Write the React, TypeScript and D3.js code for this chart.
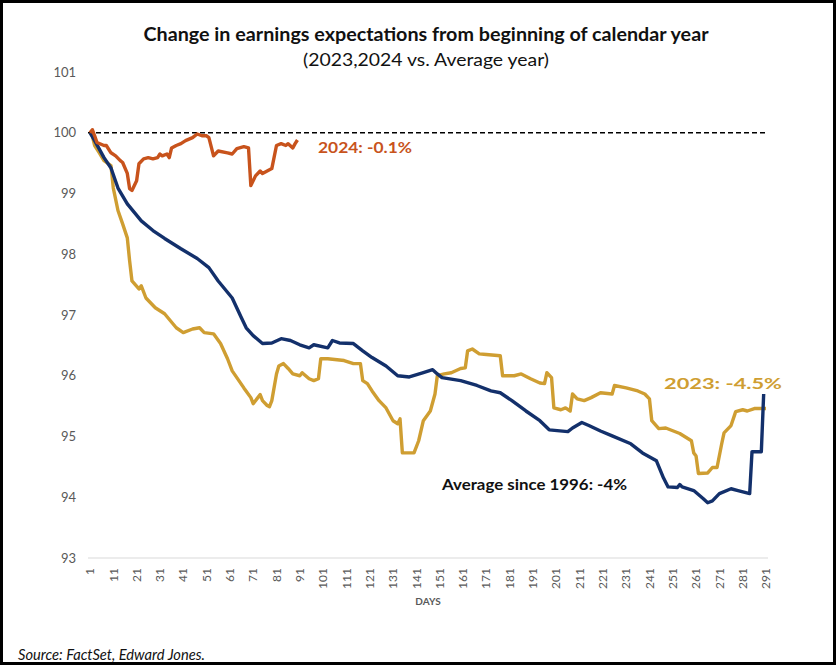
import React from "react";
import * as d3 from "d3";

const avgSeries: [number, number][] = [[1,100.0],[3,99.87],[7,99.59],[10,99.42],[13,99.09],[17,98.83],[23,98.55],[28,98.39],[33,98.26],[40,98.09],[47,97.93],[52,97.78],[56,97.56],[62,97.28],[66,96.95],[68,96.79],[71,96.66],[75,96.53],[79,96.54],[83,96.61],[87,96.58],[91,96.51],[95,96.46],[97,96.51],[103,96.46],[105,96.58],[108,96.54],[114,96.53],[118,96.41],[122,96.30],[128,96.16],[133,96.00],[138,95.98],[144,96.05],[148,96.10],[150,96.03],[152,95.97],[160,95.92],[167,95.84],[173,95.75],[177,95.72],[182,95.59],[188,95.42],[194,95.26],[198,95.11],[206,95.08],[208,95.14],[212,95.23],[215,95.18],[220,95.09],[225,95.01],[233,94.88],[238,94.73],[244,94.60],[247,94.32],[249,94.17],[253,94.16],[254,94.21],[255,94.17],[260,94.11],[264,93.98],[266,93.91],[268,93.94],[271,94.06],[276,94.14],[279,94.11],[284,94.06],[285,94.75],[289,94.75],[290,95.70]];

const series2023: [number, number][] = [[1,100.0],[2,99.95],[3,99.79],[5,99.67],[7,99.54],[10,99.46],[11,99.09],[13,98.72],[15,98.50],[17,98.27],[18,97.89],[19,97.56],[22,97.43],[23,97.48],[25,97.28],[29,97.12],[33,97.02],[38,96.79],[41,96.71],[45,96.77],[48,96.79],[50,96.71],[54,96.69],[57,96.53],[60,96.28],[62,96.08],[67,95.80],[70,95.64],[71,95.54],[73,95.64],[74,95.69],[75,95.59],[77,95.51],[78,95.49],[79,95.59],[81,96.03],[82,96.16],[84,96.20],[86,96.12],[88,96.03],[91,96.00],[92,96.05],[95,95.95],[97,95.92],[99,95.95],[100,96.28],[103,96.28],[110,96.25],[114,96.20],[117,96.20],[118,95.92],[120,95.87],[122,95.75],[125,95.59],[128,95.47],[131,95.26],[133,95.21],[134,95.29],[135,94.73],[140,94.73],[142,94.93],[144,95.26],[147,95.42],[149,95.70],[150,96.00],[153,96.03],[156,96.05],[160,96.12],[162,96.13],[163,96.41],[165,96.44],[168,96.36],[171,96.35],[177,96.33],[178,96.00],[183,96.00],[186,96.03],[190,95.95],[194,95.88],[196,95.87],[197,96.05],[199,95.97],[200,95.47],[203,95.44],[205,95.47],[207,95.42],[208,95.70],[210,95.62],[213,95.59],[216,95.64],[220,95.72],[225,95.70],[226,95.84],[231,95.80],[236,95.75],[239,95.70],[241,95.62],[242,95.26],[245,95.13],[248,95.14],[254,95.05],[259,94.93],[260,94.73],[261,94.68],[262,94.39],[266,94.40],[268,94.49],[270,94.49],[272,94.88],[273,95.06],[276,95.18],[278,95.41],[281,95.44],[283,95.42],[286,95.46],[291,95.46]];

const series2024: [number, number][] = [[1,100.0],[2,100.05],[3,99.95],[4,99.84],[7,99.79],[8,99.79],[10,99.67],[12,99.62],[14,99.54],[15,99.51],[17,99.33],[18,99.08],[19,99.05],[21,99.21],[22,99.49],[24,99.57],[26,99.59],[28,99.57],[30,99.59],[31,99.65],[32,99.62],[34,99.65],[35,99.59],[36,99.75],[38,99.79],[40,99.82],[42,99.87],[45,99.92],[47,99.98],[49,99.95],[51,99.95],[52,99.92],[54,99.62],[56,99.70],[60,99.67],[62,99.65],[64,99.74],[67,99.77],[69,99.75],[70,99.13],[72,99.29],[74,99.37],[75,99.33],[77,99.37],[79,99.41],[81,99.79],[83,99.82],[85,99.79],[86,99.82],[88,99.75],[89,99.82],[90,99.88]];

const yTicks = [93, 94, 95, 96, 97, 98, 99, 100, 101];
const xTicks = d3.range(1, 292, 10);

const titleText = "Change in earnings expectations from beginning of calendar year";
const subtitleText = "(2023,2024 vs. Average year)";
const label2024 = "2024: -0.1%";
const label2023 = "2023: -4.5%";
const labelAvg = "Average since 1996: -4%";
const xAxisTitle = "DAYS";
const sourceText = "Source: FactSet, Edward Jones.";

const NAVY = "#13306b";
const GOLD = "#cf9e32";
const ORANGE = "#c8531c";
const GRAY = "#595959";
const FONT = "Lato, 'Open Sans', sans-serif";

export default function App() {
  const x = d3.scaleLinear().domain([1, 291]).range([90, 766]);
  const y = d3.scaleLinear().domain([93, 101]).range([558, 72]);
  const line = d3
    .line<[number, number]>()
    .x((d) => x(d[0]))
    .y((d) => y(d[1]));

  return (
    <svg
      width={836}
      height={665}
      style={{ position: "absolute", left: 0, top: 0, background: "#fff" }}
      fontFamily={FONT}
    >
      <rect x={0} y={0} width={836} height={665} fill="#fff" />
      <text x={426} y={41} textAnchor="middle" fontSize={18} fontWeight="bold" fill="#111" textLength={565} lengthAdjust="spacingAndGlyphs">
        {titleText}
      </text>
      <text x={426} y={66} textAnchor="middle" fontSize={18} fill="#111" textLength={246} lengthAdjust="spacingAndGlyphs">
        {subtitleText}
      </text>

      {yTicks.map((t) => (
        <text key={t} x={76} y={y(t)} dy="0.35em" textAnchor="end" fontSize={13} fill={GRAY}>
          {t}
        </text>
      ))}

      <line x1={88} x2={768} y1={y(93)} y2={y(93)} stroke="#d9d9d9" strokeWidth={1} />

      {xTicks.map((t) => (
        <text
          key={t}
          transform={`translate(${x(t)},568) rotate(-90)`}
          textAnchor="end"
          dy="0.35em"
          fontSize={12}
          fill={GRAY}
        >
          {t}
        </text>
      ))}
      <text x={428} y={605} textAnchor="middle" fontSize={10} fontWeight="bold" fill={GRAY}>
        {xAxisTitle}
      </text>

      <line x1={88} x2={767} y1={y(100)} y2={y(100)} stroke="#000" strokeWidth={1.5} strokeDasharray="5,3" />

      <path d={line(series2023) || ""} fill="none" stroke={GOLD} strokeWidth={3.4} strokeLinejoin="round" />
      <path d={line(avgSeries) || ""} fill="none" stroke={NAVY} strokeWidth={3.4} strokeLinejoin="round" />
      <path d={line(series2024) || ""} fill="none" stroke={ORANGE} strokeWidth={3.4} strokeLinejoin="round" />

      <text x={318} y={153} fontSize={16} fontWeight="bold" fill={ORANGE} textLength={94} lengthAdjust="spacingAndGlyphs">
        {label2024}
      </text>
      <text x={664} y={389} fontSize={16} fontWeight="bold" fill={GOLD} textLength={118} lengthAdjust="spacingAndGlyphs">
        {label2023}
      </text>
      <text x={442} y={490} fontSize={16} fontWeight="bold" fill="#111" textLength={185} lengthAdjust="spacingAndGlyphs">
        {labelAvg}
      </text>

      <text x={18} y={660} fontSize={15} fontStyle="italic" fill="#111" textLength={187} lengthAdjust="spacingAndGlyphs">
        {sourceText}
      </text>

      <rect x={1.5} y={1.5} width={833} height={662} fill="none" stroke="#000" strokeWidth={3} />
    </svg>
  );
}
